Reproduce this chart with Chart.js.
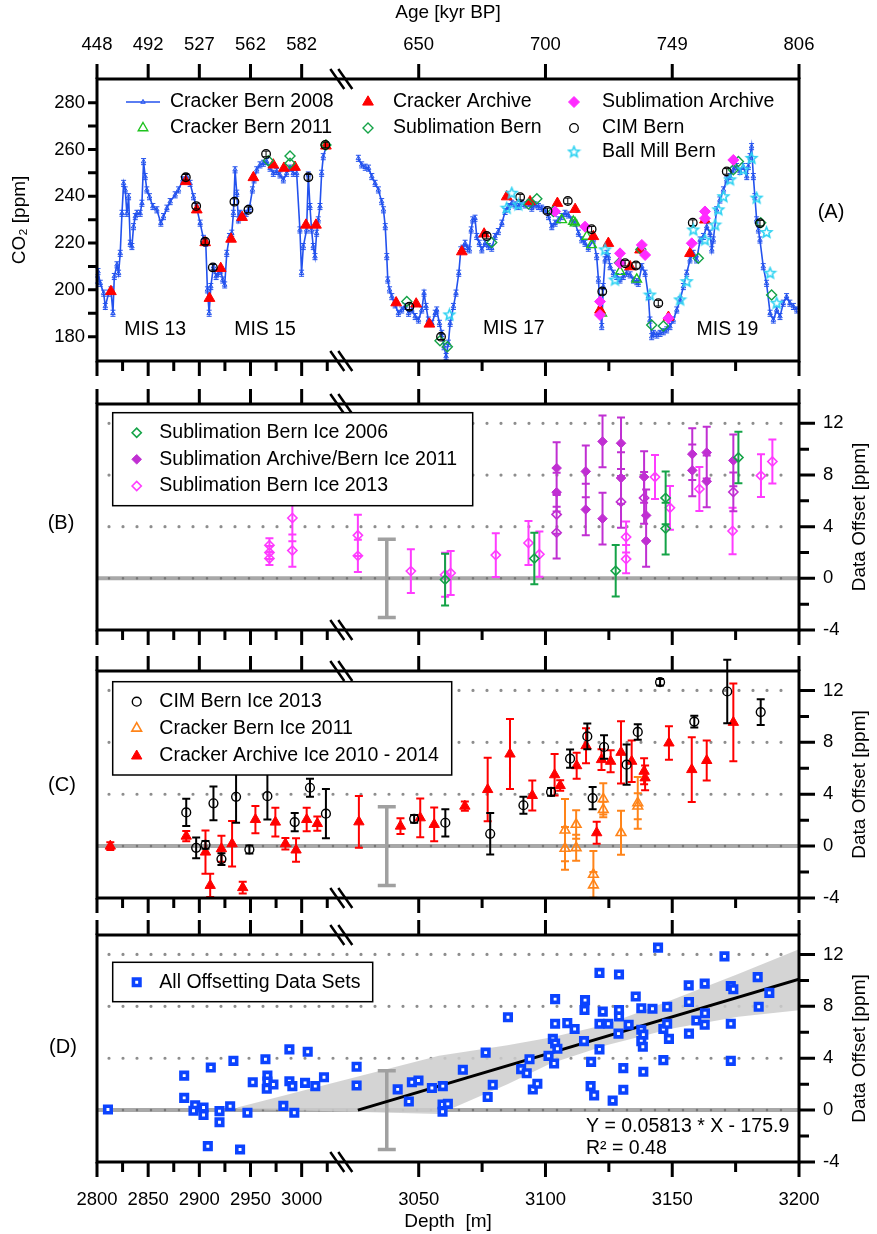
<!DOCTYPE html>
<html lang="en">
<head>
<meta charset="UTF-8">
<title>CO2 records and data offsets vs depth</title>
<script src="https://cdn.jsdelivr.net/npm/chart.js"></script>
<style>
  body { margin: 0; background: #fff; width: 877px; height: 1234px; overflow: hidden; }
  #wrap { position: relative; width: 877px; height: 1234px; }
  #wrap canvas { position: absolute; left: 0; }
</style>
</head>
<body>
<div id="wrap">
  <canvas id="chartA" width="877" height="383" style="top:0px"></canvas>
  <canvas id="chartB" width="877" height="267" style="top:383px"></canvas>
  <canvas id="chartC" width="877" height="265" style="top:650px"></canvas>
  <canvas id="chartD" width="877" height="319" style="top:915px"></canvas>
</div>
<script>
// ---- axes ----
const depthTicks = [2800, 2850, 2900, 2950, 3000, 3050, 3100, 3150, 3200];
const depthMinor = [2825, 2875, 2925, 2975, 3025, 3075, 3125, 3175];
const ageLabels = ['448', '492', '527', '562', '582', '650', '700', '749', '806'];
const co2Ticks = [180, 200, 220, 240, 260, 280];
const co2Minor = [190, 210, 230, 250, 270];
const offsetTicks = [-4, 0, 4, 8, 12];
const offsetMinor = [-2, 2, 6, 10];

// ---- panel A: CO2 records ----
const bern2008Depth = [2800.5, 2801, 2803.2, 2806.5, 2808.1, 2811.4, 2813.6, 2815.6, 2816.9, 2819.5, 2821.1, 2822.7, 2824.4, 2826.0, 2827.6, 2829.2, 2830.9, 2832.5, 2834.1, 2835.7, 2837.4, 2839.0, 2842.2, 2843.9, 2845.5, 2847.1, 2848.7, 2851.3, 2854.6, 2858.5, 2862.4, 2865.0, 2868.3, 2871.5, 2876.4, 2879.6, 2883.9, 2887.8, 2891.0, 2894.3, 2897.5, 2900.8, 2904.0, 2906.3, 2907.9, 2909.6, 2911.2, 2913.8, 2916.4, 2918.7, 2920.9, 2922.9, 2924.8, 2926.8, 2929.4, 2931.7, 2933.3, 2934.9, 2936.6, 2938.2, 2939.8, 2943.1, 2945.7, 2948.9, 2951.9, 2953.5, 2956.1, 2959.3, 2962.6, 2965.8, 2969.1, 2972.3, 2975.6, 2978.8, 2982.1, 2985.3, 2988.6, 2991.8, 2995.1, 2998.3, 2999.9, 3001.6, 3004.8, 3006.5, 3008.1, 3009.7, 3011.3, 3013.0, 3014.6, 3016.2, 3017.9, 3019.5, 3021.1, 3024.4, 3025,
  3026.2, 3027.5, 3028.9, 3030.2, 3031.5, 3032.8, 3034.1, 3035.4, 3036.1, 3036.8, 3037.4, 3037.8, 3038.5, 3039.4, 3040.7, 3042.0, 3043.3, 3044.6, 3046.0, 3047.3, 3048.6, 3049.9, 3051.2, 3052.1, 3052.9, 3053.8, 3055.2, 3056.5, 3057.1, 3058.2, 3059.1, 3060.0, 3060.8, 3061.7, 3062.4, 3063.7, 3064.7, 3065.8, 3066.6, 3067.4, 3068.3, 3069.2, 3070.0, 3070.7, 3071.3, 3072.2, 3072.9, 3073.9, 3074.9, 3076.2, 3077.5, 3078.8, 3080.1, 3081.4, 3082.8, 3084.1, 3085.4, 3086.7, 3088.0, 3089.3, 3090.6, 3092.0, 3093.3, 3094.6, 3095.9, 3097.2, 3098.5, 3099.8, 3101.2, 3102.5, 3103.8, 3105.1, 3106.4, 3107.7, 3109.0, 3110.4, 3111.7, 3113.0, 3114.3, 3115.6, 3116.9,
  3118.9, 3120.2, 3120.9, 3121.5, 3122.2, 3122.8, 3123.5, 3124.2, 3124.8, 3125.5, 3126.8, 3128.1, 3129.4, 3130.7, 3132.0, 3133.4, 3134.7, 3136.0, 3136.6, 3138.0, 3139.3, 3140.6, 3141.2, 3141.9, 3142.6, 3143.9, 3145.2, 3146.5, 3147.8, 3149.1, 3150.4, 3151.8, 3153.1, 3154.4, 3155.7, 3157.0, 3158.3, 3159.6, 3161.0, 3162.3, 3163.6, 3164.9, 3165.6, 3166.2, 3167.5, 3168.8, 3170.2, 3171.5, 3172.8, 3174.1, 3175.4, 3176.7, 3178.0, 3179.4, 3180.0, 3180.7, 3181.3, 3182.0, 3182.6, 3183.3, 3184.0, 3184.6, 3185.9, 3187.2, 3188.6, 3189.9, 3191.2, 3192.5, 3193.8, 3195.1, 3196.4, 3197.8, 3199.1];
const bern2008CO2 = [204.2, 207.8, 202.8, 198.6, 192.9, 198.6, 200.0, 190.0, 205.7, 210.7, 207.1, 215.6, 232.7, 245.5, 242.7, 232.7, 239.8, 219.9, 218.5, 227.0, 231.3, 232.7, 232.7, 237.0, 254.8, 248.4, 242.7, 239.8, 235.6, 234.2, 228.5, 231.3, 234.9, 237.7, 240.6, 242.7, 247.0, 248.4, 245.5, 239.8, 234.9, 228.5, 222.0, 219.9, 200.0, 190.0, 201.4, 209.9, 205.7, 207.1, 208.5, 204.2, 202.1, 215.6, 222.8, 224.2, 232.7, 251.3, 241.3, 229.9, 232.7, 231.3, 232.7, 234.9, 242.7, 247.0, 251.3, 253.4, 254.1, 254.8, 252.0, 249.8, 250.6, 249.1, 247.0, 249.8, 252.0, 249.8, 249.8, 225.6, 207.1, 218.5, 225.6, 249.1, 235.6, 225.6, 218.5, 214.2, 224.2, 229.9, 235.6, 249.8, 256.9, 261.9, null,
  256.2, 253.4, 252.4, 252.0, 248.4, 245.5, 242.7, 237.7, 234.2, 227.0, 214.2, 204.2, 200.0, 197.1, 193.6, 190.0, 191.4, 192.9, 190.0, 191.4, 188.6, 187.1, 191.4, 198.6, 192.9, 187.1, 185.7, 190.0, 191.4, 185.7, 181.4, 175.7, 171.5, 177.2, 185.7, 192.9, 198.6, 207.1, 217.1, 217.8, 219.9, 217.8, 217.1, 225.6, 229.9, 230.6, 222.8, 219.9, 217.1, 219.9, 218.5, 217.8, 222.8, 224.9, 228.5, 233.5, 235.6, 237.0, 236.3, 235.6, 237.0, 236.3, 237.0, 234.9, 236.3, 235.6, 234.9, 234.2, 231.3, 227.0, 228.5, 229.9, 231.3, 232.7, 232.0, 229.9, 228.5, 224.2, 221.4, 219.9, 217.8,
  221.3, 214.2, 204.2, 191.4, 184.3, 201.4, 212.8, 215.6, 214.2, 209.9, 207.1, 205.7, 204.2, 205.7, 207.1, 206.4, 204.2, 203.5, 202.8, 209.9, 207.1, 197.1, 187.1, 180.0, 181.4, 180.7, 181.4, 182.1, 182.9, 184.3, 187.1, 191.4, 195.7, 201.4, 207.1, 212.8, 215.6, 212.8, 221.3, 222.8, 227.0, 224.2, 217.1, 221.3, 234.2, 238.4, 242.7, 247.0, 248.4, 251.3, 252.7, 250.6, 252.7, 248.4, 252.7, 256.9, 261.2, 248.4, 239.8, 229.9, 225.6, 221.3, 209.9, 202.8, 190.0, 187.1, 191.4, 188.6, 194.3, 197.1, 194.3, 192.9, 191.4];
const bern2011Depth = [3106.4, 3111.0, 3111.7, 3116.3, 3118.2, 3122.2, 3129.4, 3136.0];
const bern2011CO2 = [229.9, 229.2, 228.5, 222.8, 219.2, 190.0, 207.8, 204.5];
const crackArchDepth = [2813.6, 2886.8, 2897.5, 2905.7, 2909.9, 2920.9, 2931.0, 2941.8, 2952.8, 2972.3, 2982.7, 2993.5, 3004.2, 3014.0, 3023.7, 3041.1, 3049.0, 3054.2, 3067.0, 3075.8, 3084.7, 3093.9, 3104.7, 3111.7, 3118.9, 3121.5, 3124.8, 3133.4, 3137.3, 3148.5, 3157.0, 3162.9];
const crackArchCO2 = [199.3, 246.3, 234.2, 220.2, 196.4, 209.2, 221.7, 231.0, 248.0, 253.4, 252.0, 252.4, 227.7, 227.7, 261.5, 194.5, 194.0, 185.4, 216.3, 223.9, 239.8, 237.7, 237.0, 234.4, 222.8, 191.4, 219.9, 209.9, 217.1, 188.3, 215.6, 229.9];
const sublBernDepth = [2967.4, 2988.6, 2988.6, 3023.7, 3045.3, 3058.4, 3061.3, 3078.8, 3093.3, 3096.6, 3103.1, 3129.2, 3137.6, 3141.9, 3146.5, 3160.3, 3174.1, 3176.1, 3184.9, 3189.2];
const sublBernCO2 = [255.2, 257.2, 254.1, 261.9, 195.0, 178.3, 175.7, 220.2, 236.7, 238.9, 233.5, 211.6, 217.3, 185.0, 184.6, 213.5, 251.3, 254.8, 228.7, 197.8];
const sublArchDepth = [3103.8, 3115.6, 3121.5, 3121.5, 3129.4, 3129.4, 3138.0, 3139.3, 3148.5, 3157.7, 3162.9, 3162.9, 3174.1];
const sublArchCO2 = [233.5, 227.0, 195.0, 189.3, 215.6, 211.4, 219.2, 214.9, 187.9, 219.9, 233.5, 230.6, 255.5];
const cimDepth = [2886.8, 2896.9, 2905.7, 2913.2, 2934.3, 2948.0, 2965.2, 3006.5, 3023.1, 3046.3, 3058.8, 3076.8, 3090.0, 3100.8, 3108.8, 3118.2, 3122.4, 3131.4, 3135.7, 3144.5, 3158.1, 3171.5, 3184.6];
const cimCO2 = [248.1, 235.8, 220.6, 209.6, 237.7, 234.2, 258.1, 248.1, 261.9, 192.8, 180.0, 223.0, 239.6, 233.7, 238.0, 225.9, 199.3, 211.4, 210.4, 194.3, 228.7, 250.6, 228.5];
const ballDepth = [3062.1, 3084.7, 3086.7, 3089.3, 3123.5, 3127.4, 3141.2, 3153.1, 3155.7, 3158.3, 3162.9, 3166.9, 3168.2, 3170.2, 3172.8, 3178.0, 3181.3, 3183.3, 3187.2, 3188.6, 3191.2];
const ballCO2 = [189.3, 234.9, 241.3, 236.3, 217.1, 204.2, 197.8, 195.7, 203.5, 225.6, 221.3, 227.7, 234.2, 239.8, 247.0, 251.3, 256.2, 239.2, 224.5, 207.1, 194.3];
const misText = ['MIS 13', 'MIS 15', 'MIS 17', 'MIS 19'];
const misDepth = [2856.9, 2964.2, 3087.5, 3171.8];
const misCO2 = [182.9, 182.9, 183.6, 182.9];

// ---- panel B: sublimation offsets ----
const b06Depth = [3060.4, 3095.6, 3127.7, 3147.4, 3147.4, 3176.1];
const b06Off = [-0.1, 1.54, 0.59, 6.23, 3.85, 9.36];
const b06Err = [2.0, 2.0, 2.0, 2.05, 2.0, 2.0];
const b11Depth = [3104.4, 3104.4, 3115.9, 3115.9, 3122.5, 3122.5, 3129.8, 3129.8, 3138.9, 3139.7, 3139.7, 3157.9, 3157.9, 3163.6, 3163.6, 3174.1];
const b11Off = [8.54, 6.67, 8.28, 5.33, 10.6, 4.62, 10.46, 7.77, 7.85, 4.87, 2.9, 9.62, 8.36, 9.74, 7.51, 9.13];
const b11Err = [2.0, 1.5, 2.0, 2.0, 2.0, 2.0, 2.0, 2.0, 2.0, 2.0, 2.0, 2.0, 2.0, 2.0, 2.0, 2.0];
const b11oDepth = [3104.4, 3104.4, 3129.8, 3138.9, 3174.1];
const b11oOff = [4.95, 3.54, 5.92, 6.23, 6.69];
const b11oErr = [1.5, 2.0, 2.0, 2.0, 1.5];
const b13Depth = [2968.5, 2968.5, 2968.5, 2990.9, 2990.9, 3026.0, 3026.0, 3046.9, 3060.4, 3062.6, 3080.4, 3093.3, 3097.6, 3131.8, 3131.8, 3143.2, 3149.1, 3160.7, 3173.8, 3185.0, 3189.5];
const b13Off = [2.56, 2.0, 1.54, 4.67, 2.15, 3.33, 1.74, 0.56, 0.28, 0.41, 1.8, 2.74, 1.87, 3.2, 1.49, 7.85, 5.46, 6.92, 3.67, 7.95, 9.05];
const b13Err = [0.55, 0.5, 0.5, 1.8, 1.25, 1.6, 1.25, 1.7, 1.7, 1.7, 1.7, 1.7, 1.75, 1.2, 1.1, 1.7, 1.7, 1.7, 1.8, 1.65, 1.7];

// ---- panel C: cracker and CIM offsets ----
const cCimDepth = [2887.2, 2896.9, 2906.0, 2913.8, 2921.6, 2935.9, 2948.9, 2966.5, 2993.2, 3008.1, 3023.7, 3048.2, 3060.5, 3078.2, 3091.3, 3102.2, 3109.7, 3116.5, 3118.6, 3123.1, 3132.0, 3136.4, 3145.2, 3158.7, 3171.7, 3184.9];
const cCimOff = [2.6, -0.13, 0.1, 3.3, -1.0, 3.8, -0.26, 3.85, 1.85, 4.5, 2.5, 2.1, 1.8, 0.95, 3.15, 4.18, 6.74, 8.46, 3.7, 7.64, 6.28, 8.8, 12.64, 9.6, 11.92, 10.33];
const cCimErr = [1.05, 0.8, 0.3, 1.3, 0.45, 2.0, 0.3, 1.8, 0.7, 0.7, 1.9, 0.3, 1.05, 1.6, 0.65, 0.3, 0.7, 1.0, 0.85, 0.9, 1.55, 0.6, 0.25, 0.45, 2.45, 1.0];
const cBernDepth = [3107.7, 3107.7, 3112.1, 3112.1, 3118.9, 3118.9, 3122.8, 3122.8, 3129.8, 3136.4, 3136.4];
const cBernOff = [1.23, -0.18, 1.67, -0.13, -2.18, -3.0, 3.64, 2.82, 1.03, 3.33, 3.08];
const cBernErr = [2.4, 1.65, 1.1, 1.0, 1.8, 1.0, 1.2, 0.6, 1.7, 2.0, 1.0];
const cArchDepth = [2813.0, 2887.2, 2906.0, 2910.6, 2921.6, 2932.0, 2942.4, 2954.8, 2974.3, 2984.1, 2994.5, 3004.9, 3015.3, 3026.4, 3042.8, 3050.6, 3056.1, 3068.2, 3077.2, 3086.0, 3094.8, 3103.6, 3105.8, 3112.3, 3116.0, 3120.2, 3122.1, 3125.7, 3129.8, 3134.0, 3138.9, 3139.3, 3148.7, 3157.7, 3163.6, 3174.1];
const cArchOff = [0.0, 0.77, -0.46, -3.03, -0.2, 0.18, -3.2, 2.05, 1.85, 0.18, -0.3, 2.05, 1.74, 1.87, 1.54, 2.18, 1.67, 3.08, 4.36, 7.1, 3.9, 5.5, 4.67, 6.2, 7.74, 1.03, 6.67, 6.54, 7.23, 6.54, 5.77, 5.26, 7.95, 5.9, 6.6, 9.54];
const cArchErr = [0.3, 0.4, 1.67, 0.9, 1.0, 1.75, 0.45, 1.05, 1.1, 0.45, 0.9, 0.9, 0.55, 2.0, 0.6, 1.5, 1.3, 0.35, 2.45, 2.7, 1.15, 1.6, 0.4, 1.0, 1.35, 0.85, 0.8, 0.85, 2.4, 1.6, 1.0, 0.95, 1.3, 2.5, 1.55, 3.0];

// typical uncertainty bar shown in panels B-D
const typDepth = [3037.4];
const typOff = [0];
const typErr = [3.03];

// ---- panel D: all offsets with linear fit ----
const allDepth = [2810.7, 2885.2, 2885.2, 2895.9, 2894.3, 2904.1, 2904.1, 2911.2, 2908.3, 2919.7, 2919.7, 2930.1, 2933.3, 2939.8, 2947.0, 2952.2, 2964.6, 2966.5, 2966.5, 2965.9, 2972.4, 2982.1, 2988.0, 2988.0, 2990.9, 2992.8, 3003.3, 3005.9, 3013.3, 3021.8, 3025.5, 3025.5, 3041.7, 3046.1, 3047.3, 3049.9, 3055.2, 3059.5, 3059.4, 3059.4, 3061.5, 3067.4, 3077.2, 3076.4, 3079.2, 3085.2, 3090.4, 3092.6, 3093.7, 3095.0, 3096.8, 3101.2, 3102.9, 3103.8, 3103.8, 3103.8, 3104.7, 3103.4, 3108.6, 3111.5, 3115.2, 3115.6, 3115.4, 3118.0, 3117.8, 3119.2, 3121.3, 3121.3, 3122.6, 3121.3, 3124.8, 3126.5, 3129.0, 3129.0, 3129.0, 3128.8, 3130.7, 3130.7, 3132.8, 3135.6, 3137.8, 3137.8, 3138.6, 3137.8, 3138.4, 3138.6, 3142.2, 3144.4, 3146.5, 3148.0, 3148.0, 3148.7, 3146.5, 3156.5, 3156.6, 3156.6, 3159.5, 3162.8, 3162.9, 3162.8, 3170.6, 3173.1, 3174.1, 3173.1, 3173.1, 3183.7, 3184.1, 3188.3];
const allOff = [0.05, 2.66, 0.94, 0.38, -0.05, 0.2, -0.38, 3.29, -2.78, -0.08, -0.94, 0.3, 3.8, -3.04, -0.2, 2.15, 3.92, 2.66, 2.2, 1.65, 1.97, 0.33, 4.68, 2.23, 1.85, -0.2, 2.1, 4.5, 1.85, 2.53, 3.34, 1.9, 1.6, 0.66, 2.15, 2.28, 1.7, 1.85, 0.43, -0.13, 0.48, 3.11, 1.01, 4.43, 1.95, 7.16, 3.16, 2.84, 3.92, 1.59, 2.03, 4.18, 5.49, 8.56, 6.66, 5.14, 4.73, 3.59, 6.71, 6.25, 5.32, 8.48, 7.72, 3.72, 1.85, 1.14, 10.58, 6.66, 7.59, 4.68, 6.66, 0.73, 10.46, 7.72, 7.22, 5.9, 3.24, 1.57, 6.58, 8.76, 7.85, 6.2, 5.82, 5.32, 4.89, 2.96, 7.82, 12.53, 6.25, 7.97, 6.66, 5.49, 3.85, 9.62, 8.33, 5.9, 6.91, 9.75, 7.47, 6.58, 11.85, 9.57, 9.32, 6.66, 3.8, 10.25, 7.97, 9.04];
const fitDepth = [3026, 3200];
const fitOff = [0.0, 10.1];
const bandDepth = [2937, 3058, 3085, 3102, 3124, 3150, 3176, 3200];
const bandHi = [0.2, 4.2, 5.0, 5.6, 6.6, 8.5, 10.5, 12.4];
const bandLo = [0.1, -0.3, 2.0, 3.6, 5.0, 6.3, 7.2, 7.7];
const fitText = ['Y = 0.05813 * X - 175.9', 'R² = 0.48'];
const fitTextDepth = [3116, 3116];
const fitTextOff = [-1.3, -2.95];

// ---- look ----
const FONT = '"Liberation Sans", Arial, Helvetica, sans-serif';
Chart.defaults.font.family = FONT;
Chart.defaults.font.size = 18;
Chart.defaults.color = '#000';

const BLUE = '#2352ee', RED = '#ff0000', GREEN_T = '#1ec21e', GREEN_D = '#14a347', MAGENTA = '#ff2bff',
      PURPLE = '#c02fd2', PINK = '#ff3cff', CYAN = '#2fd3f2', ORANGE = '#ff8419', SQBLUE = '#0b43ff', GREY = '#a0a0a0';
const NONE = 'rgba(0,0,0,0)';

// broken depth axis: 2800-3025 m on the left block, 3025-3200 m on the right block
const BREAK_AT = 3025;
const LEFT_END = 0.328;
const RIGHT_START = 0.368;
function depthToFrac(d) {
  if (d <= BREAK_AT) return (d - 2800) / (BREAK_AT - 2800) * LEFT_END;
  return RIGHT_START + (d - BREAK_AT) / (3200 - BREAK_AT) * (1 - RIGHT_START);
}
function fracToDepth(f) {
  if (f <= (LEFT_END + RIGHT_START) / 2) return 2800 + f / LEFT_END * (BREAK_AT - 2800);
  return BREAK_AT + (f - RIGHT_START) / (1 - RIGHT_START) * (3200 - BREAK_AT);
}
class BrokenDepthScale extends Chart.LinearScale {
  getPixelForValue(value) {
    if (value === null || value === undefined) return NaN;
    return this.getPixelForDecimal(depthToFrac(value));
  }
  getValueForPixel(pixel) {
    return fracToDepth(this.getDecimalForPixel(pixel));
  }
}
BrokenDepthScale.id = 'brokenDepth';
BrokenDepthScale.defaults = {};
Chart.register(BrokenDepthScale);

// vertical error bars, drawn just under each dataset
Chart.register({
  id: 'errorBars',
  beforeDatasetDraw(chart, args) {
    const ds = chart.data.datasets[args.index];
    if (ds.errorBars == null) return;
    const ys = chart.scales[args.meta.yAxisID];
    const ctx = chart.ctx;
    ctx.save();
    ctx.strokeStyle = ds.errorColor || ds.pointBorderColor;
    ctx.lineWidth = ds.errorWidth || 1.5;
    const cap = ds.capWidth || 4;
    ctx.beginPath();
    args.meta.data.forEach((pt, i) => {
      const raw = ds.data[i];
      if (raw.y == null) return;
      const e = Array.isArray(ds.errorBars) ? ds.errorBars[i] : ds.errorBars;
      if (!e) return;
      const y1 = ys.getPixelForValue(raw.y + e), y2 = ys.getPixelForValue(raw.y - e);
      ctx.moveTo(pt.x, y1); ctx.lineTo(pt.x, y2);
      ctx.moveTo(pt.x - cap, y1); ctx.lineTo(pt.x + cap, y1);
      ctx.moveTo(pt.x - cap, y2); ctx.lineTo(pt.x + cap, y2);
    });
    ctx.stroke();
    ctx.restore();
  }
});

function starImage(color, r) {
  const c = document.createElement('canvas');
  const s = Math.ceil(r * 2 + 4);
  c.width = c.height = s;
  const g = c.getContext('2d');
  g.strokeStyle = color;
  g.lineWidth = 1.6;
  g.beginPath();
  for (let k = 0; k < 10; k++) {
    const ang = -Math.PI / 2 + k * Math.PI / 5;
    const rr = k % 2 ? r * 0.45 : r;
    const px = s / 2 + rr * Math.cos(ang), py = s / 2 + rr * Math.sin(ang);
    if (k) g.lineTo(px, py); else g.moveTo(px, py);
  }
  g.closePath();
  g.stroke();
  return c;
}

const pts = (xs, ys) => xs.map((x, i) => ({x: x, y: ys[i]}));
const look = (style, r, fill, stroke, bw) => ({pointStyle: style, pointRadius: r, pointBackgroundColor: fill,
  pointBorderColor: stroke, pointBorderWidth: bw, showLine: false});

function drawLegend(chart, ctx, a, items, box) {
  ctx.save();
  if (box) {
    ctx.fillStyle = '#fff';
    ctx.fillRect(a.left + box[0], a.top + box[1], box[2] - box[0], box[3] - box[1]);
    ctx.strokeStyle = '#000';
    ctx.lineWidth = 1.5;
    ctx.strokeRect(a.left + box[0], a.top + box[1], box[2] - box[0], box[3] - box[1]);
  }
  ctx.font = '19.5px ' + FONT;
  ctx.textBaseline = 'middle';
  ctx.textAlign = 'left';
  items.forEach(([i, sx, sy, tx]) => {
    const ds = chart.data.datasets[i];
    const px = a.left + sx, py = a.top + sy;
    if (ds.showLine) {
      ctx.strokeStyle = ds.borderColor;
      ctx.lineWidth = ds.borderWidth;
      ctx.beginPath(); ctx.moveTo(px - 17, py); ctx.lineTo(px + 17, py); ctx.stroke();
    }
    ctx.fillStyle = ds.pointBackgroundColor;
    ctx.strokeStyle = ds.pointBorderColor;
    ctx.lineWidth = ds.pointBorderWidth;
    Chart.helpers.drawPoint(ctx, {pointStyle: ds.pointStyle, radius: ds.pointRadius,
      borderWidth: ds.pointBorderWidth, rotation: 0}, px, py);
    ctx.fillStyle = '#000';
    ctx.fillText(ds.label, a.left + tx, py);
  });
  ctx.restore();
}

function rightTitle(ctx, a, text) {
  ctx.save();
  ctx.translate(860, (a.top + a.bottom) / 2);
  ctx.rotate(-Math.PI / 2);
  ctx.font = '19px ' + FONT;
  ctx.textAlign = 'center';
  ctx.textBaseline = 'middle';
  ctx.fillStyle = '#000';
  ctx.fillText(text, 0, 0);
  ctx.restore();
}

function panelLabel(ctx, text, x, y) {
  ctx.save();
  ctx.font = '20px ' + FONT;
  ctx.textAlign = 'center';
  ctx.textBaseline = 'middle';
  ctx.fillStyle = '#000';
  ctx.fillText(text, x, y);
  ctx.restore();
}

// frame, tick marks, axis break, reference lines and annotations
function makeDecor(cfg) {
  return {
    id: 'decor',
    beforeDatasetsDraw(chart) {
      const {ctx, chartArea: a} = chart;
      const y = chart.scales.y;
      ctx.save();
      if (cfg.zero) {
        const yy = y.getPixelForValue(0);
        ctx.strokeStyle = '#a8a8a8';
        ctx.lineWidth = 4;
        ctx.beginPath(); ctx.moveTo(a.left, yy); ctx.lineTo(a.right, yy); ctx.stroke();
      }
      ctx.lineCap = 'round';
      ctx.setLineDash([0, 14]);
      ctx.lineWidth = 3.2;
      ctx.strokeStyle = '#8e8e8e';
      (cfg.dotted || []).forEach(v => {
        const yy = y.getPixelForValue(v);
        ctx.beginPath(); ctx.moveTo(a.left + 12, yy); ctx.lineTo(a.right - 4, yy); ctx.stroke();
      });
      if (cfg.zero) {
        const yy = y.getPixelForValue(0);
        ctx.strokeStyle = '#777';
        ctx.lineWidth = 2.6;
        ctx.beginPath(); ctx.moveTo(a.left + 12, yy); ctx.lineTo(a.right - 4, yy); ctx.stroke();
      }
      ctx.restore();
    },
    afterDraw(chart) {
      const {ctx, chartArea: a} = chart;
      const x = chart.scales.x, y = chart.scales.y;
      ctx.save();
      ctx.strokeStyle = '#000';
      ctx.lineWidth = 3;
      ctx.strokeRect(a.left, a.top, a.right - a.left, a.bottom - a.top);
      ctx.beginPath();
      depthTicks.forEach(d => {
        const px = x.getPixelForValue(d);
        ctx.moveTo(px, a.top); ctx.lineTo(px, a.top - 15);
        ctx.moveTo(px, a.bottom); ctx.lineTo(px, a.bottom + 15);
      });
      depthMinor.forEach(d => {
        const px = x.getPixelForValue(d);
        ctx.moveTo(px, a.bottom); ctx.lineTo(px, a.bottom + 10);
      });
      const x0 = cfg.side === 'left' ? a.left : a.right;
      const dir = cfg.side === 'left' ? -1 : 1;
      cfg.yMajor.forEach(v => { const py = y.getPixelForValue(v); ctx.moveTo(x0, py); ctx.lineTo(x0 + dir * cfg.majorLen, py); });
      cfg.yMinor.forEach(v => { const py = y.getPixelForValue(v); ctx.moveTo(x0, py); ctx.lineTo(x0 + dir * cfg.minorLen, py); });
      ctx.stroke();
      // break marks
      const cx = a.left + (LEFT_END + RIGHT_START) / 2 * (a.right - a.left);
      ctx.lineWidth = 2.5;
      ctx.beginPath();
      [a.top, a.bottom].forEach(yy => {
        [-4, 4].forEach(o => { ctx.moveTo(cx + o - 7, yy - 10); ctx.lineTo(cx + o + 7, yy + 10); });
      });
      ctx.stroke();
      ctx.restore();
      if (cfg.extra) cfg.extra(chart, ctx, a);
    }
  };
}

function depthAxis(position, labelCallback, height, pad, titleText) {
  return {
    type: 'brokenDepth', position: position, min: 2800, max: 3200,
    display: height > 0,
    grid: {display: false, drawTicks: false}, border: {display: false},
    afterBuildTicks: s => { s.ticks = depthTicks.map(v => ({value: v})); },
    afterFit: s => { s.height = height; },
    ticks: {autoSkip: false, maxRotation: 0, minRotation: 0, padding: pad, font: {size: 18.5}, color: '#000',
      callback: labelCallback},
    title: {display: !!titleText, text: titleText || '', font: {size: 19}, color: '#000',
      padding: {top: 1, bottom: 1}}
  };
}

function offsetAxis() {
  return {
    position: 'right', min: -4, max: 13.5,
    grid: {display: false, drawTicks: false}, border: {display: false},
    afterBuildTicks: s => { s.ticks = offsetTicks.map(v => ({value: v})); },
    afterFit: s => { s.width = 78; s.paddingTop = 0; s.paddingBottom = 0; },
    ticks: {padding: 24, font: {size: 18.5}, color: '#000'}
  };
}

function baseOptions(padding, xAxis, yAxis) {
  return {
    responsive: false, animation: false, events: [],
    layout: {padding: padding},
    plugins: {legend: {display: false}, tooltip: {enabled: false}},
    scales: {x: xAxis, y: yAxis}
  };
}

function typicalBar() {
  return Object.assign({label: 'typical', data: pts(typDepth, typOff), errorBars: typErr,
    errorColor: GREY, errorWidth: 3.5, capWidth: 9}, look('circle', 0, NONE, GREY, 0));
}

const offsetDecor = (extra) => makeDecor({side: 'right', yMajor: offsetTicks, yMinor: offsetMinor,
  majorLen: 16, minorLen: 10, dotted: [4, 8, 12], zero: true, extra: extra});

// ---- chart A ----
const star = starImage(CYAN, 5.5);
new Chart(document.getElementById('chartA'), {
  type: 'scatter',
  data: {datasets: [
    Object.assign({label: 'Ball Mill Bern', data: pts(ballDepth, ballCO2)}, look(star, 5.5, NONE, CYAN, 1.5)),
    Object.assign({label: 'CIM Bern', data: pts(cimDepth, cimCO2), errorBars: 1.2, errorColor: '#000', errorWidth: 1, capWidth: 3},
      look('circle', 4.3, NONE, '#000', 1.3)),
    Object.assign({label: 'Sublimation Archive', data: pts(sublArchDepth, sublArchCO2)}, look('rectRot', 5.5, MAGENTA, MAGENTA, 1)),
    Object.assign({label: 'Sublimation Bern', data: pts(sublBernDepth, sublBernCO2)}, look('rectRot', 5, NONE, GREEN_D, 1.4)),
    Object.assign({label: 'Cracker Archive', data: pts(crackArchDepth, crackArchCO2)}, look('triangle', 6.2, RED, RED, 1)),
    Object.assign({label: 'Cracker Bern 2011', data: pts(bern2011Depth, bern2011CO2)}, look('triangle', 5.5, NONE, GREEN_T, 1.4)),
    Object.assign({label: 'Cracker Bern 2008', data: pts(bern2008Depth, bern2008CO2), errorBars: 1.3, errorColor: BLUE,
      errorWidth: 1, capWidth: 2.5}, look('triangle', 2.6, NONE, BLUE, 1),
      {showLine: true, borderColor: BLUE, borderWidth: 1.6, spanGaps: false})
  ]},
  options: baseOptions({left: 0, right: 78, top: 0, bottom: 22},
    depthAxis('top', (v, i) => ageLabels[i], 79, 23, 'Age [kyr BP]'),
    {
      position: 'left', min: 169.6, max: 290.1,
      grid: {display: false, drawTicks: false}, border: {display: false},
      afterBuildTicks: s => { s.ticks = co2Ticks.map(v => ({value: v})); },
      afterFit: s => { s.width = 97; s.paddingTop = 0; s.paddingBottom = 0; },
      ticks: {padding: 12, font: {size: 18.5}, color: '#000'},
      title: {display: true, text: 'CO₂ [ppm]', font: {size: 19}, color: '#000', padding: {top: 8, bottom: 0}}
    }),
  plugins: [makeDecor({side: 'left', yMajor: co2Ticks, yMinor: co2Minor, majorLen: 9, minorLen: 9,
    extra: (chart, ctx, a) => {
      drawLegend(chart, ctx, a, [[6, 46, 23, 73], [5, 46, 49, 73], [4, 271, 23, 296], [3, 271, 49, 296],
        [2, 477, 23, 505], [1, 477, 49, 505], [0, 477, 73, 505]], null);
      const xs = chart.scales.x, ys = chart.scales.y;
      ctx.save();
      ctx.font = '19.5px ' + FONT;
      ctx.textAlign = 'center';
      ctx.textBaseline = 'middle';
      ctx.fillStyle = '#000';
      misText.forEach((t, i) => ctx.fillText(t, xs.getPixelForValue(misDepth[i]), ys.getPixelForValue(misCO2[i])));
      ctx.restore();
      panelLabel(ctx, '(A)', a.right + 32, a.top + 133);
    }})]
});

// ---- chart B ----
new Chart(document.getElementById('chartB'), {
  type: 'scatter',
  data: {datasets: [
    Object.assign({label: 'Sublimation Bern Ice 2006', data: pts(b06Depth, b06Off), errorBars: b06Err, errorWidth: 2, capWidth: 4},
      look('rectRot', 4.6, NONE, GREEN_D, 1.6)),
    Object.assign({label: 'Sublimation Archive/Bern Ice 2011', data: pts(b11Depth, b11Off), errorBars: b11Err, errorWidth: 2, capWidth: 4},
      look('rectRot', 4.8, PURPLE, PURPLE, 1)),
    Object.assign({label: 'Sublimation Archive/Bern Ice 2011 (open)', data: pts(b11oDepth, b11oOff), errorBars: b11oErr, errorWidth: 2, capWidth: 4},
      look('rectRot', 4.6, NONE, PURPLE, 1.6)),
    Object.assign({label: 'Sublimation Bern Ice 2013', data: pts(b13Depth, b13Off), errorBars: b13Err, errorWidth: 2, capWidth: 4},
      look('rectRot', 4.6, NONE, PINK, 1.6)),
    typicalBar()
  ]},
  options: baseOptions({left: 97, right: 0, top: 21, bottom: 20}, depthAxis('bottom', v => String(v), 0, 0, null), offsetAxis()),
  plugins: [offsetDecor((chart, ctx, a) => {
    drawLegend(chart, ctx, a, [[0, 39.7, 28.7, 62.3], [1, 39.7, 55.3, 62.3], [3, 39.7, 82, 62.3]], [15.7, 8.7, 375.7, 101.7]);
    panelLabel(ctx, '(B)', a.left - 36, a.top + 119);
    rightTitle(ctx, a, 'Data Offset [ppm]');
  })]
});

// ---- chart C ----
new Chart(document.getElementById('chartC'), {
  type: 'scatter',
  data: {datasets: [
    Object.assign({label: 'CIM Bern Ice 2013', data: pts(cCimDepth, cCimOff), errorBars: cCimErr, errorWidth: 2, capWidth: 4},
      look('circle', 4.4, NONE, '#000', 1.4)),
    Object.assign({label: 'Cracker Bern Ice 2011', data: pts(cBernDepth, cBernOff), errorBars: cBernErr, errorWidth: 2, capWidth: 4},
      look('triangle', 5.6, NONE, ORANGE, 1.6)),
    Object.assign({label: 'Cracker Archive Ice 2010 - 2014', data: pts(cArchDepth, cArchOff), errorBars: cArchErr, errorWidth: 2, capWidth: 4},
      look('triangle', 6, RED, RED, 1)),
    typicalBar()
  ]},
  options: baseOptions({left: 97, right: 0, top: 21, bottom: 17}, depthAxis('bottom', v => String(v), 0, 0, null), offsetAxis()),
  plugins: [offsetDecor((chart, ctx, a) => {
    drawLegend(chart, ctx, a, [[0, 39.7, 30.7, 62.3], [1, 39.7, 57.3, 62.3], [2, 39.7, 85, 62.3]], [15.7, 10.7, 354.7, 104]);
    panelLabel(ctx, '(C)', a.left - 35, a.top + 114);
    rightTitle(ctx, a, 'Data Offset [ppm]');
  })]
});

// ---- chart D ----
new Chart(document.getElementById('chartD'), {
  type: 'scatter',
  data: {datasets: [
    Object.assign({label: 'All Offsetting Data Sets', data: pts(allDepth, allOff)}, look('rect', 4.6, '#fff', SQBLUE, 3.6)),
    Object.assign({label: 'fit', data: pts(fitDepth, fitOff)}, look('circle', 0, NONE, '#000', 0),
      {showLine: true, borderColor: '#000', borderWidth: 3}),
    typicalBar(),
    Object.assign({label: 'band upper', data: pts(bandDepth, bandHi)}, look('circle', 0, NONE, NONE, 0),
      {showLine: true, borderColor: NONE, borderWidth: 0.1, fill: '+1', backgroundColor: 'rgba(205,205,205,0.85)'}),
    Object.assign({label: 'band lower', data: pts(bandDepth, bandLo)}, look('circle', 0, NONE, NONE, 0),
      {showLine: true, borderColor: NONE, borderWidth: 0.1, fill: false})
  ]},
  options: baseOptions({left: 97, right: 0, top: 20, bottom: 0},
    depthAxis('bottom', v => String(v), 72, 27, 'Depth  [m]'), offsetAxis()),
  plugins: [offsetDecor((chart, ctx, a) => {
    drawLegend(chart, ctx, a, [[0, 39.7, 47.3, 62.3]], [15.7, 27.3, 275.7, 66.7]);
    panelLabel(ctx, '(D)', a.left - 34, a.top + 112);
    rightTitle(ctx, a, 'Data Offset [ppm]');
    const xs = chart.scales.x, ys = chart.scales.y;
    ctx.save();
    ctx.font = '19.5px ' + FONT;
    ctx.textAlign = 'left';
    ctx.textBaseline = 'middle';
    ctx.fillStyle = '#000';
    fitText.forEach((t, i) => ctx.fillText(t, xs.getPixelForValue(fitTextDepth[i]), ys.getPixelForValue(fitTextOff[i])));
    ctx.restore();
  })]
});
</script>
</body>
</html>
